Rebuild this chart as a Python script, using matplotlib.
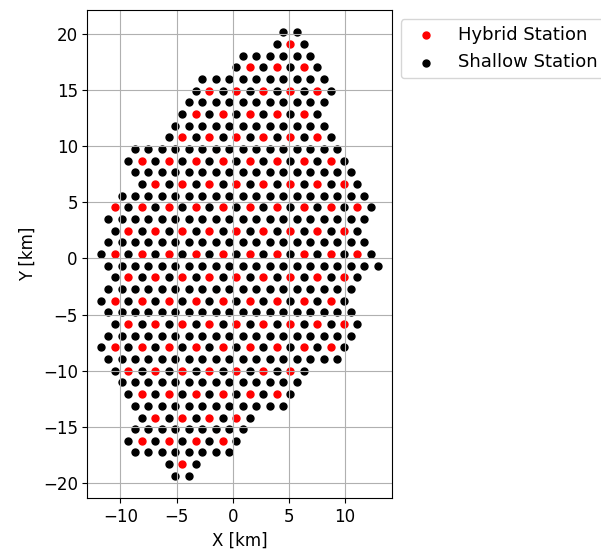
import numpy as np
import matplotlib
matplotlib.use('Agg')
import matplotlib.pyplot as plt

# station grid, read row by row from top to bottom (km)
spacing = 1.2
row_y = [20.13, 19.09, 18.05, 17.01, 15.97, 14.93, 13.89, 12.86, 11.82, 10.78,
         9.74, 8.70, 7.66, 6.62, 5.58, 4.54, 3.50, 2.46, 1.42, 0.38,
         -0.66, -1.69, -2.73, -3.77, -4.81, -5.85, -6.89, -7.93, -8.97, -10.01,
         -11.05, -12.09, -13.13, -14.17, -15.20, -16.24, -17.28, -18.32, -19.36]
row_x_first = [4.5, 3.9, 0.9, 0.3, -2.7, -3.3, -3.9, -4.5, -5.1, -5.7,
               -8.7, -9.3, -8.7, -8.1, -9.9, -10.5, -11.1, -10.5, -11.1, -11.7,
               -11.1, -10.5, -11.1, -11.7, -11.1, -10.5, -11.1, -11.7, -11.1, -10.5,
               -9.9, -9.3, -8.7, -8.1, -8.7, -9.3, -8.7, -5.7, -5.1]
row_count = [2, 3, 6, 7, 10, 11, 11, 11, 12, 13,
             16, 17, 17, 17, 19, 20, 20, 19, 20, 21,
             21, 19, 19, 19, 19, 19, 19, 19, 18, 15,
             14, 13, 12, 9, 9, 9, 8, 3, 2]

# hybrid stations (every second station on every second row)
hyb_row = [1, 3, 5, 7, 9, 11, 13, 15, 17, 19, 21, 23, 25, 27, 29, 31, 33, 35, 37]
hyb_x_first = [5.1, 1.5, -2.1, -3.3, -4.5, -8.1, -6.9, -10.5, -9.3, -10.5,
               -9.3, -10.5, -9.3, -10.5, -9.3, -8.1, -6.9, -8.1, -4.5]
hyb_count = [1, 3, 5, 5, 6, 8, 8, 10, 9, 10, 9, 9, 9, 9, 7, 6, 4, 4, 1]

allx = []
ally = []
for y, x0, n in zip(row_y, row_x_first, row_count):
    for i in range(n):
        allx.append(round(x0 + i * spacing, 2))
        ally.append(y)

hx = []
hy = []
for r, x0, n in zip(hyb_row, hyb_x_first, hyb_count):
    for i in range(n):
        hx.append(round(x0 + i * 2 * spacing, 2))
        hy.append(row_y[r])

#shallow stations are the grid points that are not hybrid
hybrid = set(zip(hx, hy))
sx = [x for x, y in zip(allx, ally) if (x, y) not in hybrid]
sy = [y for x, y in zip(allx, ally) if (x, y) not in hybrid]

plt.rcParams['font.size'] = 12
fig = plt.figure(figsize=(6.01, 5.54), dpi=100)
ax = fig.add_axes([0.145, 0.101, 0.507, 0.881])
ax.scatter(hx, hy, s=25, color='red', label='Hybrid Station')
ax.scatter(sx, sy, s=25, color='black', label='Shallow Station')
ax.set_aspect('equal')
ax.grid(True)
ax.set_xlabel('X [km]')
ax.set_ylabel('Y [km]')
ax.legend(loc='upper left', bbox_to_anchor=(1, 1), fontsize=13)
fig.savefig('out.png', dpi=100)
